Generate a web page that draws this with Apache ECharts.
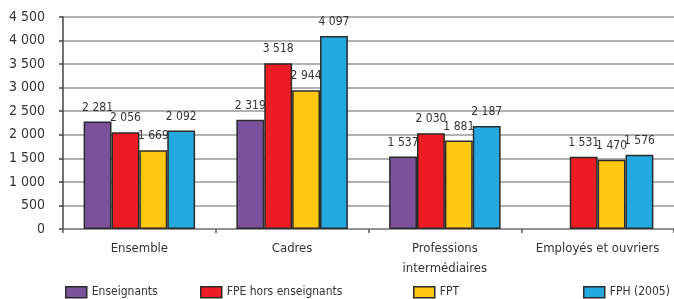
<!DOCTYPE html>
<html>
<head>
<meta charset="utf-8">
<script src="https://cdn.jsdelivr.net/npm/echarts@6/dist/echarts.min.js"></script>
<style>
html, body { margin: 0; padding: 0; background: #fff; }
#chart { width: 674px; height: 299px; }
</style>
</head>
<body>
<div id="chart"></div>
<script>
var categories = ['Ensemble', 'Cadres', 'Professions\nintermédiaires', 'Employés et ouvriers'];
var enseignants = [2281, 2319, 1537, null];
var fpeHors = [2056, 3518, 2030, 1531];
var fpt = [1669, 2944, 1881, 1470];
var fph = [2092, 4097, 2187, 1576];
var yTicks = [0, 500, 1000, 1500, 2000, 2500, 3000, 3500, 4000, 4500];

var font = '"Liberation Sans Narrow", "DejaVu Sans Condensed", "Liberation Sans", sans-serif';

function fmt(v) {
    return String(v).replace(/\B(?=(\d{3})+(?!\d))/g, ' ');
}

function serie(name, data, color) {
    return {
        name: name,
        type: 'bar',
        data: data,
        barGap: '0%',
        barCategoryGap: '27%',
        itemStyle: { color: color, borderColor: '#2b2b2b', borderWidth: 1.5 },
        label: {
            show: true,
            position: 'top',
            distance: 8,
            color: '#333',
            fontFamily: font,
            fontSize: 12,
            formatter: function (p) { return fmt(p.value); }
        }
    };
}

function leg(name, left) {
    return {
        data: [name],
        left: left,
        top: 281,
        itemWidth: 21,
        itemHeight: 11,
        icon: 'rect',
        itemStyle: { borderColor: '#2b2b2b', borderWidth: 1.5 },
        textStyle: { fontFamily: font, fontSize: 12, color: '#333' }
    };
}

var chart = echarts.init(document.getElementById('chart'));
chart.setOption({
    animation: false,
    grid: { left: 63, right: 0, top: 17, bottom: 70 },
    legend: [
        leg('Enseignants', 60),
        leg('FPE hors enseignants', 195),
        leg('FPT', 408),
        leg('FPH (2005)', 578)
    ],
    xAxis: {
        type: 'category',
        data: categories,
        axisLine: { lineStyle: { color: '#888', width: 1.5 } },
        axisTick: { show: true, length: 4, lineStyle: { color: '#555', width: 1.5 } },
        axisLabel: {
            interval: 0, fontFamily: font, fontSize: 13, color: '#333',
            margin: 10, lineHeight: 20
        }
    },
    yAxis: {
        type: 'value',
        min: yTicks[0],
        max: yTicks[yTicks.length - 1],
        interval: 500,
        axisLine: { show: true, lineStyle: { color: '#444', width: 1.5 } },
        axisTick: { show: true, length: 4, lineStyle: { color: '#444', width: 1.5 } },
        splitLine: { lineStyle: { color: '#999', width: 1.5 } },
        axisLabel: {
            fontFamily: font, fontSize: 14, color: '#333', margin: 18,
            formatter: function (v) { return fmt(v); }
        }
    },
    series: [
        serie('Enseignants', enseignants, '#7b519c'),
        serie('FPE hors enseignants', fpeHors, '#ed1c24'),
        serie('FPT', fpt, '#fec80e'),
        serie('FPH (2005)', fph, '#23a8e0')
    ]
});
</script>
</body>
</html>
